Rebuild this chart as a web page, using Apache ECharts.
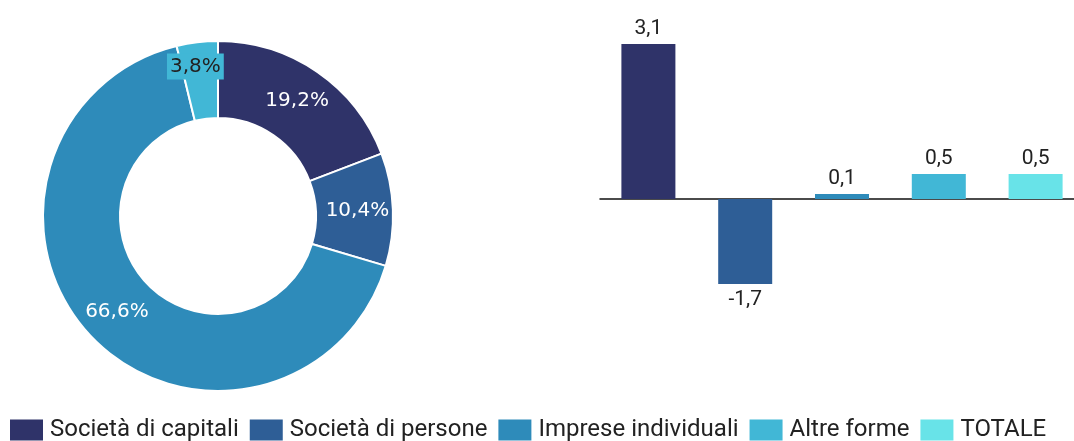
<!DOCTYPE html>
<html>
<head>
<meta charset="utf-8">
<script src="https://cdn.jsdelivr.net/npm/echarts@6/dist/echarts.min.js"></script>
<style>
  html, body { margin: 0; padding: 0; background: #fff; }
  #main { width: 1074px; height: 441px; }
</style>
</head>
<body>
<div id="main"></div>
<script>
// categorie e colori
const nomi = ['Società di capitali', 'Società di persone', 'Imprese individuali', 'Altre forme', 'TOTALE'];
const colori = ['#2f3369', '#2e5e96', '#2e8bba', '#41b7d6', '#68e3e8'];
// composizione (ciambella)
const quote = [19.2, 10.4, 66.6, 3.8];
// variazioni (barre)
const variazioni = [3.1, -1.7, 0.1, 0.5, 0.5];

const fmt = v => String(v).replace('.', ',');

const myChart = echarts.init(document.getElementById('main'));

const barre = nomi.map((n, i) => ({
  name: n,
  type: 'bar',
  stack: 'v',
  barWidth: 54,
  itemStyle: { color: colori[i] },
  label: {
    show: true,
    position: variazioni[i] >= 0 ? 'top' : 'bottom',
    distance: 5,
    color: '#222',
    fontFamily: 'Roboto',
    fontSize: 21,
    formatter: p => fmt(p.value)
  },
  data: variazioni.map((v, j) => (j === i ? v : '-'))
}));

myChart.setOption({
  animation: false,
  legend: {
    data: nomi,
    left: 5,
    top: 413,
    padding: 5,
    icon: 'rect',
    itemWidth: 33,
    itemHeight: 21,
    itemGap: 11,
    textStyle: { fontFamily: 'Roboto', fontSize: 24, color: '#222', padding: [2, 0, 0, 2] }
  },
  grid: { left: 600, top: 29, width: 484, height: 270, outerBoundsMode: 'none' },
  xAxis: {
    type: 'category',
    data: nomi,
    axisLine: { onZero: true, lineStyle: { color: '#111', width: 1.5 } },
    axisTick: { show: false },
    axisLabel: { show: false }
  },
  yAxis: {
    type: 'value',
    min: -2,
    max: 3.4,
    show: false,
    splitLine: { show: false }
  },
  series: [
    {
      name: 'Composizione',
      type: 'pie',
      center: [218, 216],
      radius: [98, 175],
      startAngle: 90,
      clockwise: true,
      itemStyle: { borderColor: '#fff', borderWidth: 2 },
      label: {
        show: true,
        position: 'inside',
        color: '#fff',
        fontFamily: 'DejaVu Sans',
        fontSize: 20,
        formatter: p => fmt(p.value) + '%'
      },
      labelLine: { show: false },
      data: quote.map((v, i) => {
        const d = { name: nomi[i], value: v, itemStyle: { color: colori[i] } };
        if (i === 3) {
          d.label = { color: '#222', backgroundColor: colori[i], padding: [3, 3, 3, 3], offset: [-6, -11] };
        }
        return d;
      })
    }
  ].concat(barre)
});
</script>
</body>
</html>
